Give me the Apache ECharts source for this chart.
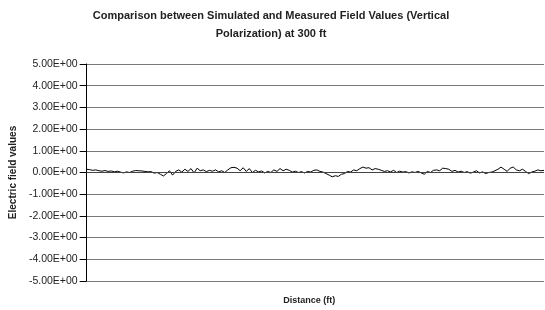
<!DOCTYPE html>
<html>
<head>
<meta charset="utf-8">
<script src="https://cdn.jsdelivr.net/npm/echarts@6/dist/echarts.min.js"></script>
<style>
  html, body { margin: 0; padding: 0; background: #fff; }
  #main { width: 545px; height: 310px; }
</style>
</head>
<body>
<div id="main"></div>
<script>
var fieldValues = [
  0.15, 0.13, 0.10, 0.12, 0.08, 0.06, 0.09, 0.05, 0.07, 0.03,
  0.06, 0.02, -0.02, 0.03, 0.00, 0.06, 0.09, 0.08, 0.07, 0.05,
  0.03, 0.04, -0.03, 0.00, -0.08, -0.16, -0.05, 0.08, -0.12, 0.05,
  0.12, 0.02, 0.15, 0.05, 0.18, -0.02, 0.20, 0.08, 0.12, 0.04,
  0.10, 0.06, 0.12, 0.03, 0.08, 0.00, 0.12, 0.22, 0.24, 0.20,
  0.08, 0.22, 0.05, 0.18, 0.00, 0.10, 0.03, 0.07, -0.02, 0.05,
  0.00, 0.12, 0.05, 0.18, 0.08, 0.15, 0.10, 0.02, 0.06, 0.00,
  0.04, -0.02, 0.05, 0.02, 0.10, 0.12, 0.05, 0.02, -0.05, -0.12,
  -0.20, -0.15, -0.18, -0.08, -0.05, 0.05, 0.02, 0.12, 0.08, 0.18,
  0.25, 0.20, 0.22, 0.12, 0.18, 0.15, 0.10, 0.05, 0.08, 0.03,
  0.10, 0.00, 0.06, 0.02, 0.04, -0.02, 0.03, 0.00, 0.05, -0.02,
  -0.08, 0.05, 0.00, 0.10, 0.12, 0.08, 0.20, 0.18, 0.15, 0.05,
  0.10, 0.02, 0.06, 0.00, 0.04, -0.03, 0.02, 0.08, -0.02, 0.03,
  -0.05, 0.00, 0.02, 0.08, 0.15, 0.25, 0.15, 0.05, 0.20, 0.25,
  0.12, 0.08, 0.15, 0.05, -0.05, 0.02, 0.06, 0.12, 0.08, 0.10
];

var distances = [];
for (var i = 0; i < fieldValues.length; i++) distances.push(i + 1);

// Excel style scientific labels: 5.00E+00
function sci(v) {
  if (v === 0) return '0.00E+00';
  var e = Math.floor(Math.log10(Math.abs(v)));
  var m = v / Math.pow(10, e);
  return m.toFixed(2) + 'E' + (e < 0 ? '-' : '+') + ('0' + Math.abs(e)).slice(-2);
}

var myChart = echarts.init(document.getElementById('main'));

var option = {
  animation: false,
  textStyle: { fontFamily: 'Liberation Sans, Arial, sans-serif' },
  title: {
    text: 'Comparison between Simulated and Measured Field Values (Vertical\nPolarization) at 300 ft',
    left: 266,
    top: 2,
    textAlign: 'center',
    textStyle: { fontSize: 11, fontWeight: 'bold', color: '#222', lineHeight: 18 }
  },
  grid: { left: 84, right: 1, top: 64, bottom: 27 },
  xAxis: {
    type: 'category',
    data: distances,
    boundaryGap: false,
    name: 'Distance (ft)',
    nameLocation: 'middle',
    nameGap: 15,
    nameTextStyle: { fontSize: 9, fontWeight: 'bold', color: '#222', padding: [0, 12, 0, 0] },
    axisLine: { show: false },
    axisTick: { show: false },
    axisLabel: { show: false },
    splitLine: { show: false }
  },
  yAxis: {
    type: 'value',
    min: -5,
    max: 5,
    interval: 1,
    name: 'Electric field values',
    nameLocation: 'middle',
    nameRotate: 90,
    nameGap: 65,
    nameTextStyle: { fontSize: 10, fontWeight: 'bold', color: '#222' },
    axisLine: { show: true, lineStyle: { color: '#000', width: 1 } },
    axisTick: { show: true, length: 7, inside: false, lineStyle: { color: '#000' } },
    axisLabel: { formatter: sci, fontSize: 10.5, color: '#222', margin: 9 },
    splitLine: { show: true, lineStyle: { color: '#7a7a7a', width: 1 } }
  },
  series: [{
    name: 'Field',
    type: 'line',
    data: fieldValues,
    symbol: 'none',
    lineStyle: { color: '#000', width: 1 },
    markLine: {
      silent: true,
      symbol: 'none',
      label: { show: false },
      lineStyle: { color: '#444', width: 1, type: 'solid' },
      data: [{ yAxis: 0 }]
    }
  }]
};

myChart.setOption(option);
</script>
</body>
</html>
